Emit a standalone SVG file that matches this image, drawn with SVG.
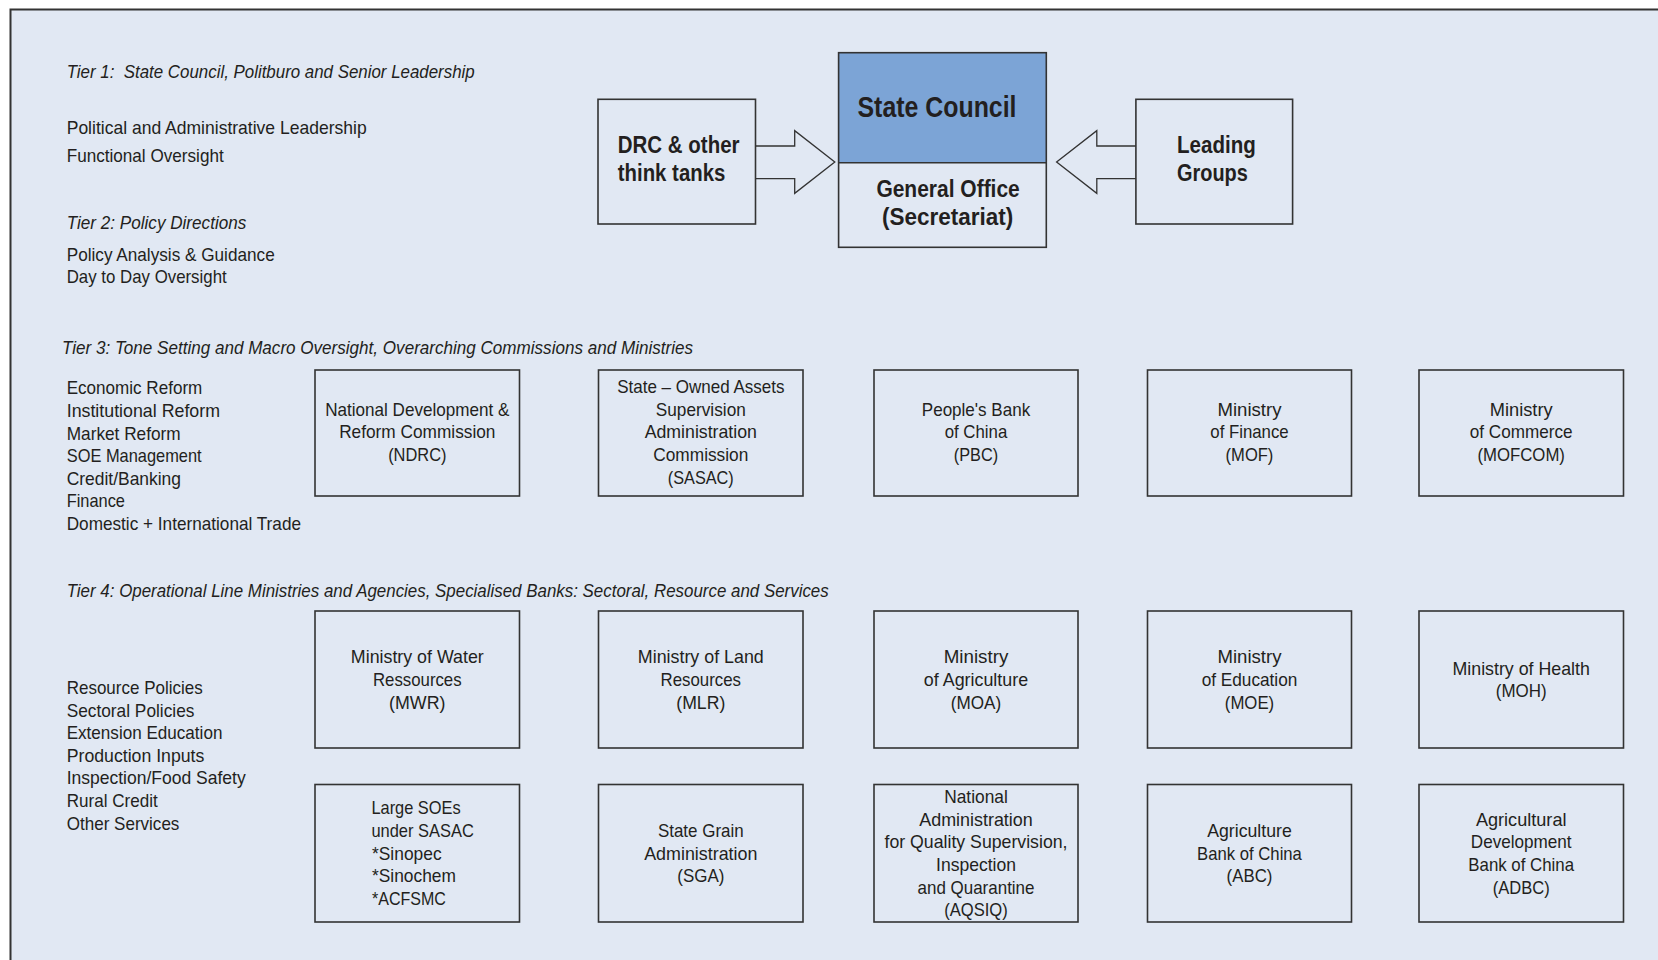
<svg xmlns="http://www.w3.org/2000/svg" width="1658" height="960" viewBox="0 0 1658 960">
<style>
  text { font-family: "Liberation Sans Narrow", "Liberation Sans", Arial, sans-serif; fill: #231f20; }
  .t { font-size: 19px; font-style: italic; }
  .l { font-size: 19px; }
  .s { font-size: 18.5px; }
  .b { font-size: 18.5px; text-anchor: middle; }
  .hb { font-weight: bold; font-size: 23px; }
  .box { fill: none; stroke: #333; stroke-width: 1.6; }
  .arrow { fill: #e1e8f3; stroke: #333; stroke-width: 1.3; stroke-linejoin: miter; }
</style>
<rect x="0" y="0" width="1658" height="960" fill="#ffffff"/>
<rect x="10.5" y="9.5" width="1700" height="1000" fill="#e1e8f3" stroke="#333" stroke-width="2"/>

<g id="left-labels">
  <text class="t" x="66.7" y="78.3" textLength="408" lengthAdjust="spacingAndGlyphs">Tier 1:&#160; State Council, Politburo and Senior Leadership</text>
  <text class="l" x="66.7" y="134" textLength="300" lengthAdjust="spacingAndGlyphs">Political and Administrative Leadership</text>
  <text class="l" x="66.7" y="161.7" textLength="157" lengthAdjust="spacingAndGlyphs">Functional Oversight</text>
  <text class="t" x="66.7" y="229.3" textLength="179.6" lengthAdjust="spacingAndGlyphs">Tier 2: Policy Directions</text>
  <text class="l" x="66.7" y="261" textLength="208" lengthAdjust="spacingAndGlyphs">Policy Analysis &amp; Guidance</text>
  <text class="l" x="66.7" y="283.3" textLength="160" lengthAdjust="spacingAndGlyphs">Day to Day Oversight</text>
  <text class="t" x="62" y="353.5" textLength="631" lengthAdjust="spacingAndGlyphs">Tier 3: Tone Setting and Macro Oversight, Overarching Commissions and Ministries</text>
  <text class="s" x="66.7" y="394.3" textLength="135.6" lengthAdjust="spacingAndGlyphs">Economic Reform</text>
  <text class="s" x="66.7" y="416.9" textLength="153.3" lengthAdjust="spacingAndGlyphs">Institutional Reform</text>
  <text class="s" x="66.7" y="439.5" textLength="114" lengthAdjust="spacingAndGlyphs">Market Reform</text>
  <text class="s" x="66.7" y="462.1" textLength="135" lengthAdjust="spacingAndGlyphs">SOE Management</text>
  <text class="s" x="66.7" y="484.7" textLength="114.3" lengthAdjust="spacingAndGlyphs">Credit/Banking</text>
  <text class="s" x="66.7" y="507.3" textLength="58.3" lengthAdjust="spacingAndGlyphs">Finance</text>
  <text class="s" x="66.7" y="529.9" textLength="234.3" lengthAdjust="spacingAndGlyphs">Domestic + International Trade</text>
  <text class="t" x="66.7" y="596.7" textLength="762" lengthAdjust="spacingAndGlyphs">Tier 4: Operational Line Ministries and Agencies, Specialised Banks: Sectoral, Resource and Services</text>
  <text class="s" x="66.7" y="694" textLength="136" lengthAdjust="spacingAndGlyphs">Resource Policies</text>
  <text class="s" x="66.7" y="716.6" textLength="127.7" lengthAdjust="spacingAndGlyphs">Sectoral Policies</text>
  <text class="s" x="66.7" y="739.2" textLength="155.7" lengthAdjust="spacingAndGlyphs">Extension Education</text>
  <text class="s" x="66.7" y="761.8" textLength="137.7" lengthAdjust="spacingAndGlyphs">Production Inputs</text>
  <text class="s" x="66.7" y="784.4" textLength="179" lengthAdjust="spacingAndGlyphs">Inspection/Food Safety</text>
  <text class="s" x="66.7" y="807" textLength="91" lengthAdjust="spacingAndGlyphs">Rural Credit</text>
  <text class="s" x="66.7" y="829.6" textLength="112.7" lengthAdjust="spacingAndGlyphs">Other Services</text>
</g>

<g id="connectors">
  <polyline class="arrow" points="755.5,146 794.7,146 794.7,130.7 834.8,161.9 794.7,193.3 794.7,178.7 755.5,178.7"/>
  <polyline class="arrow" points="1135.9,146 1096.8,146 1096.8,130.7 1056.6,161.9 1096.8,193.3 1096.8,178.7 1135.9,178.7"/>
</g>

<g id="drc">
  <rect class="box" x="598" y="99.3" width="157.5" height="124.7"/>
  <text class="hb" x="617.8" y="152.7" textLength="121.7" lengthAdjust="spacingAndGlyphs">DRC &amp; other</text>
  <text class="hb" x="617.8" y="181" textLength="107.5" lengthAdjust="spacingAndGlyphs">think tanks</text>
</g>

<g id="state-council">
  <rect x="838.6" y="52.7" width="207.7" height="110" fill="#7ca4d6"/>
  <rect class="box" x="838.6" y="52.7" width="207.7" height="194.6"/>
  <line x1="838.6" y1="162.7" x2="1046.3" y2="162.7" stroke="#333" stroke-width="1.6"/>
  <text x="857.5" y="117.3" font-size="29" font-weight="bold" textLength="159" lengthAdjust="spacingAndGlyphs">State Council</text>
  <text class="hb" x="876.4" y="196.7" textLength="143.4" lengthAdjust="spacingAndGlyphs">General Office</text>
  <text class="hb" x="882" y="224.5" textLength="131.2" lengthAdjust="spacingAndGlyphs">(Secretariat)</text>
</g>

<g id="leading-groups">
  <rect class="box" x="1135.9" y="99.3" width="156.7" height="124.7"/>
  <text class="hb" x="1177" y="152.7" textLength="78.8" lengthAdjust="spacingAndGlyphs">Leading</text>
  <text class="hb" x="1177" y="181" textLength="70.8" lengthAdjust="spacingAndGlyphs">Groups</text>
</g>

<g id="ndrc">
  <rect class="box" x="315" y="370" width="204.5" height="126"/>
  <text class="b" x="417.3" y="415.8" textLength="184.3" lengthAdjust="spacingAndGlyphs">National Development &amp;</text>
  <text class="b" x="417.3" y="438.4" textLength="156.3" lengthAdjust="spacingAndGlyphs">Reform Commission</text>
  <text class="b" x="417.3" y="461" textLength="58.3" lengthAdjust="spacingAndGlyphs">(NDRC)</text>
</g>
<g id="sasac">
  <rect class="box" x="598.5" y="370" width="204.5" height="126"/>
  <text class="b" x="700.8" y="393.2" textLength="167.3" lengthAdjust="spacingAndGlyphs">State – Owned Assets</text>
  <text class="b" x="700.8" y="415.8" textLength="90" lengthAdjust="spacingAndGlyphs">Supervision</text>
  <text class="b" x="700.8" y="438.4" textLength="112.3" lengthAdjust="spacingAndGlyphs">Administration</text>
  <text class="b" x="700.8" y="461" textLength="95" lengthAdjust="spacingAndGlyphs">Commission</text>
  <text class="b" x="700.8" y="483.6" textLength="66" lengthAdjust="spacingAndGlyphs">(SASAC)</text>
</g>
<g id="pbc">
  <rect class="box" x="874" y="370" width="204" height="126"/>
  <text class="b" x="976" y="415.8" textLength="108.4" lengthAdjust="spacingAndGlyphs">People's Bank</text>
  <text class="b" x="976" y="438.4" textLength="62.6" lengthAdjust="spacingAndGlyphs">of China</text>
  <text class="b" x="976" y="461" textLength="44.3" lengthAdjust="spacingAndGlyphs">(PBC)</text>
</g>
<g id="mof">
  <rect class="box" x="1147.5" y="370" width="204" height="126"/>
  <text class="b" x="1249.5" y="415.8" textLength="64.1" lengthAdjust="spacingAndGlyphs">Ministry</text>
  <text class="b" x="1249.5" y="438.4" textLength="78.4" lengthAdjust="spacingAndGlyphs">of Finance</text>
  <text class="b" x="1249.5" y="461" textLength="47.8" lengthAdjust="spacingAndGlyphs">(MOF)</text>
</g>
<g id="mofcom">
  <rect class="box" x="1419" y="370" width="204.5" height="126"/>
  <text class="b" x="1521.2" y="415.8" textLength="63" lengthAdjust="spacingAndGlyphs">Ministry</text>
  <text class="b" x="1521.2" y="438.4" textLength="102.8" lengthAdjust="spacingAndGlyphs">of Commerce</text>
  <text class="b" x="1521.2" y="461" textLength="87.5" lengthAdjust="spacingAndGlyphs">(MOFCOM)</text>
</g>

<g id="mwr">
  <rect class="box" x="315" y="611" width="204.5" height="137"/>
  <text class="b" x="417.3" y="663.3" textLength="132.9" lengthAdjust="spacingAndGlyphs">Ministry of Water</text>
  <text class="b" x="417.3" y="685.9" textLength="88.6" lengthAdjust="spacingAndGlyphs">Ressources</text>
  <text class="b" x="417.3" y="708.5" textLength="56.4" lengthAdjust="spacingAndGlyphs">(MWR)</text>
</g>
<g id="mlr">
  <rect class="box" x="598.5" y="611" width="204.5" height="137"/>
  <text class="b" x="700.8" y="663.3" textLength="126" lengthAdjust="spacingAndGlyphs">Ministry of Land</text>
  <text class="b" x="700.8" y="685.9" textLength="80.4" lengthAdjust="spacingAndGlyphs">Resources</text>
  <text class="b" x="700.8" y="708.5" textLength="49" lengthAdjust="spacingAndGlyphs">(MLR)</text>
</g>
<g id="moa">
  <rect class="box" x="874" y="611" width="204" height="137"/>
  <text class="b" x="976" y="663.3" textLength="64.6" lengthAdjust="spacingAndGlyphs">Ministry</text>
  <text class="b" x="976" y="685.9" textLength="104.3" lengthAdjust="spacingAndGlyphs">of Agriculture</text>
  <text class="b" x="976" y="708.5" textLength="50.4" lengthAdjust="spacingAndGlyphs">(MOA)</text>
</g>
<g id="moe">
  <rect class="box" x="1147.5" y="611" width="204" height="137"/>
  <text class="b" x="1249.5" y="663.3" textLength="64.1" lengthAdjust="spacingAndGlyphs">Ministry</text>
  <text class="b" x="1249.5" y="685.9" textLength="95.7" lengthAdjust="spacingAndGlyphs">of Education</text>
  <text class="b" x="1249.5" y="708.5" textLength="49.4" lengthAdjust="spacingAndGlyphs">(MOE)</text>
</g>
<g id="moh">
  <rect class="box" x="1419" y="611" width="204.5" height="137"/>
  <text class="b" x="1521.2" y="674.6" textLength="137.4" lengthAdjust="spacingAndGlyphs">Ministry of Health</text>
  <text class="b" x="1521.2" y="697.2" textLength="50.9" lengthAdjust="spacingAndGlyphs">(MOH)</text>
</g>

<g id="large-soes">
  <rect class="box" x="315" y="784.5" width="204.5" height="137.5"/>
  <text class="s" x="371.4" y="814.4" textLength="89.3" lengthAdjust="spacingAndGlyphs">Large SOEs</text>
  <text class="s" x="371.4" y="837" textLength="102.5" lengthAdjust="spacingAndGlyphs">under SASAC</text>
  <text class="s" x="372" y="859.6" textLength="69.6" lengthAdjust="spacingAndGlyphs">*Sinopec</text>
  <text class="s" x="372" y="882.2" textLength="83.9" lengthAdjust="spacingAndGlyphs">*Sinochem</text>
  <text class="s" x="372" y="904.8" textLength="73.9" lengthAdjust="spacingAndGlyphs">*ACFSMC</text>
</g>
<g id="sga">
  <rect class="box" x="598.5" y="784.5" width="204.5" height="137.5"/>
  <text class="b" x="700.8" y="837" textLength="85.7" lengthAdjust="spacingAndGlyphs">State Grain</text>
  <text class="b" x="700.8" y="859.6" textLength="113.2" lengthAdjust="spacingAndGlyphs">Administration</text>
  <text class="b" x="700.8" y="882.2" textLength="47.1" lengthAdjust="spacingAndGlyphs">(SGA)</text>
</g>
<g id="aqsiq">
  <rect class="box" x="874" y="784.5" width="204" height="137.5"/>
  <text class="b" x="976" y="803.1" textLength="63.6" lengthAdjust="spacingAndGlyphs">National</text>
  <text class="b" x="976" y="825.7" textLength="113.5" lengthAdjust="spacingAndGlyphs">Administration</text>
  <text class="b" x="976" y="848.3" textLength="183" lengthAdjust="spacingAndGlyphs">for Quality Supervision,</text>
  <text class="b" x="976" y="870.9" textLength="79.9" lengthAdjust="spacingAndGlyphs">Inspection</text>
  <text class="b" x="976" y="893.5" textLength="117" lengthAdjust="spacingAndGlyphs">and Quarantine</text>
  <text class="b" x="976" y="916.1" textLength="63.6" lengthAdjust="spacingAndGlyphs">(AQSIQ)</text>
</g>
<g id="abc">
  <rect class="box" x="1147.5" y="784.5" width="204" height="137.5"/>
  <text class="b" x="1249.5" y="837" textLength="84.5" lengthAdjust="spacingAndGlyphs">Agriculture</text>
  <text class="b" x="1249.5" y="859.6" textLength="104.8" lengthAdjust="spacingAndGlyphs">Bank of China</text>
  <text class="b" x="1249.5" y="882.2" textLength="45.8" lengthAdjust="spacingAndGlyphs">(ABC)</text>
</g>
<g id="adbc">
  <rect class="box" x="1419" y="784.5" width="204.5" height="137.5"/>
  <text class="b" x="1521.2" y="825.7" textLength="90.6" lengthAdjust="spacingAndGlyphs">Agricultural</text>
  <text class="b" x="1521.2" y="848.3" textLength="100.8" lengthAdjust="spacingAndGlyphs">Development</text>
  <text class="b" x="1521.2" y="870.9" textLength="105.8" lengthAdjust="spacingAndGlyphs">Bank of China</text>
  <text class="b" x="1521.2" y="893.5" textLength="57" lengthAdjust="spacingAndGlyphs">(ADBC)</text>
</g>
</svg>
